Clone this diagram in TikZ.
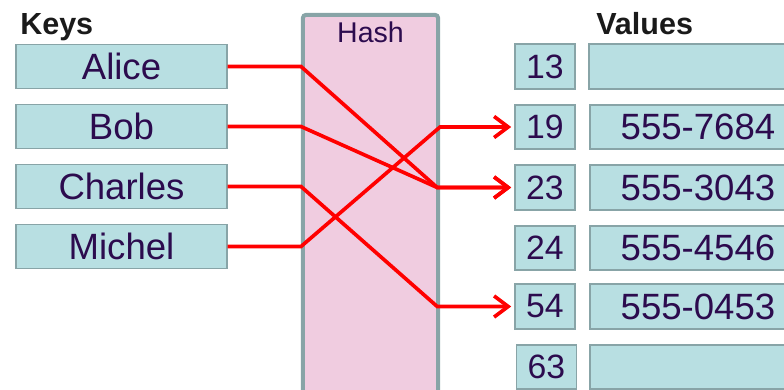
\documentclass[tikz,border=0pt]{standalone}
\usepackage{fontspec}
\setmainfont{Liberation Sans}
\usetikzlibrary{arrows.meta}

\definecolor{boxfill}{HTML}{B8DFE2}
\definecolor{boxline}{HTML}{88A4A7}
\definecolor{hashfill}{HTML}{F0CCE0}
\definecolor{inktext}{HTML}{2C0B4E}
\definecolor{headtext}{HTML}{1A1A1A}

\begin{document}
\begin{tikzpicture}[x=0.025cm, y=-0.025cm,
    cell/.style={draw=boxline, line width=1.4pt, fill=boxfill, inner sep=0pt,
      text=inktext, font=\fontsize{26}{30}\selectfont},
    keycell/.style={cell, minimum width=5.25cm, minimum height=1.1cm},
    numcell/.style={cell, minimum width=1.5cm, minimum height=1.12cm, font=\fontsize{24}{28}\selectfont},
    valcell/.style={cell, minimum width=5.4cm, minimum height=1.12cm},
    heading/.style={anchor=base west, inner sep=0pt, text=headtext, font=\fontsize{21.7}{26}\selectfont\bfseries},
    hasharrow/.style={draw=red, line width=2.6pt, shorten >=2pt,
      -{Straight Barb[length=10pt, width=15pt, line width=2.6pt]}}]

    \useasboundingbox (0,0) rectangle (784,389);
    \clip (0,0) rectangle (784,389);

    % Headings
    \node[heading] (keyshead) at (20,34) {Keys};
    \node[heading] (valshead) at (596,34) {Values};

    % Hash function box
    \node[draw=boxline, line width=2.85pt, fill=hashfill, rounded corners=2pt,
      minimum width=3.375cm, minimum height=9.7cm, inner sep=0pt] (hash) at (370.5,209) {};
    \node[text=inktext, font=\fontsize{20.3}{24}\selectfont, inner sep=0pt] (hashlbl) at (370.5,32) {Hash};

    % Keys
    \node[keycell] (alice) at (121.5,66.5) {Alice};
    \node[keycell] (bob) at (121.5,126.5) {Bob};
    \node[keycell] (charles) at (121.5,186.5) {Charles};
    \node[keycell] (michel) at (121.5,246.5) {Michel};

    % Buckets
    \node[numcell] (n13) at (545,66.5) {13};
    \node[numcell] (n19) at (545,127) {19};
    \node[numcell] (n23) at (545,187.5) {23};
    \node[numcell] (n24) at (545,248) {24};
    \node[numcell] (n54) at (545,306.5) {54};
    \node[numcell] (n63) at (546.5,367) {63};

    % Values
    \node[valcell] (v13) at (697,66.5) {};
    \node[valcell] (v19) at (698,127) {555-7684};
    \node[valcell] (v23) at (698,187.5) {555-3043};
    \node[valcell] (v24) at (698,248) {555-4546};
    \node[valcell] (v54) at (698,306.5) {555-0453};
    \node[valcell] (v63) at (698,367) {};

    % Mapping keys to buckets
    \draw[hasharrow] (alice.east) -- (alice.east -| hash.west) -- ([xshift=-2pt]n23.west -| hash.east) -- (n23.west);
    \draw[hasharrow] (bob.east) -- (bob.east -| hash.west) -- ([xshift=-2pt]n23.west -| hash.east) -- (n23.west);
    \draw[hasharrow] (charles.east) -- (charles.east -| hash.west) -- ([xshift=-2pt]n54.west -| hash.east) -- (n54.west);
    \draw[hasharrow] (michel.east) -- (michel.east -| hash.west) -- (n19.west -| hash.east) -- (n19.west);

\end{tikzpicture}
\end{document}
